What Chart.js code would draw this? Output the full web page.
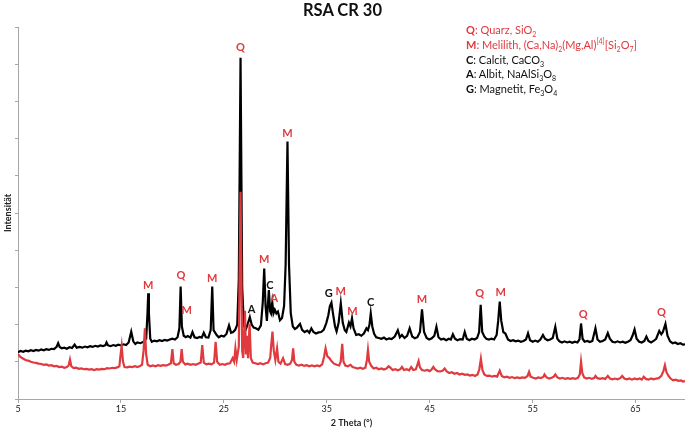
<!DOCTYPE html>
<html>
<head>
<meta charset="utf-8">
<title>RSA CR 30</title>
<script src="https://cdn.jsdelivr.net/npm/chart.js@4.4.1/dist/chart.umd.min.js"></script>
<style>
    html, body { margin: 0; padding: 0; background: #fff; }
    #wrap { position: relative; width: 685px; height: 432px; font-family: Lato, "Open Sans", sans-serif; }
    #title { position: absolute; left: 0; width: 685px; top: 0; text-align: center; font-weight: bold; font-size: 16.5px; line-height: 20px; color: #111; }
    #phases { position: absolute; left: 466px; top: 23px; font-size: 11px; line-height: 14.8px; color: #111; white-space: nowrap; }
    #phases .red { color: #e0393e; }
    #phases sub, #phases sup { font-size: 7px; line-height: 0; }
    canvas { position: absolute; left: 0; top: 0; }
</style>
</head>
<body>
<div id="wrap">
    <canvas id="xrd" width="685" height="432"></canvas>
    <div id="title">RSA CR 30</div>
    <div id="phases">
        <div class="red"><b>Q</b>: Quarz, SiO<sub>2</sub></div>
        <div class="red"><b>M</b>: Melilith, (Ca,Na)<sub>2</sub>(Mg,Al)<sup>[4]</sup>[Si<sub>2</sub>O<sub>7</sub>]</div>
        <div><b>C</b>: Calcit, CaCO<sub>3</sub></div>
        <div><b>A</b>: Albit, NaAlSi<sub>3</sub>O<sub>8</sub></div>
        <div><b>G</b>: Magnetit, Fe<sub>3</sub>O<sub>4</sub></div>
    </div>
</div>
<script>
// values (2 theta in degrees, intensity in axis units 0..10)
const xTicks = [5, 15, 25, 35, 45, 55, 65];

const blackTheta = [5.0, 5.25, 5.5, 5.75, 6.0, 6.25, 6.5, 6.75, 7.0, 7.25, 7.5, 7.75, 8.0, 8.25, 8.5, 8.75, 8.9, 9.05, 9.25, 9.5, 9.75, 10.0, 10.25, 10.5, 10.7, 11.0, 11.25, 11.5, 11.75, 12.0, 12.25, 12.5, 12.75, 13.0, 13.25, 13.5, 13.6, 13.75, 14.0, 14.25, 14.5, 14.75, 15.0, 15.25, 15.5, 15.75, 16.0, 16.2, 16.4, 16.6, 16.9, 17.2, 17.45, 17.58, 17.65, 17.72, 17.85, 18.0, 18.25, 18.5, 18.75, 19.0, 19.25, 19.5, 19.75, 20.0, 20.25, 20.5, 20.68, 20.8, 20.92, 21.1, 21.3, 21.5, 21.75, 21.95, 22.15, 22.4, 22.65, 22.85, 23.05, 23.25, 23.5, 23.72, 23.87, 24.0, 24.3, 24.5, 24.75, 25.0, 25.25, 25.5, 25.7, 25.9, 26.1, 26.3, 26.45, 26.62, 26.78, 26.95, 27.15, 27.35, 27.52, 27.7, 27.9, 28.1, 28.35, 28.6, 28.78, 28.92, 29.05, 29.18, 29.37, 29.5, 29.58, 29.7, 29.82, 29.95, 30.1, 30.25, 30.45, 30.65, 30.85, 31.0, 31.18, 31.33, 31.5, 31.7, 31.9, 32.1, 32.4, 32.6, 32.85, 33.1, 33.3, 33.5, 33.7, 33.95, 34.2, 34.45, 34.7, 34.95, 35.15, 35.3, 35.45, 35.6, 35.8, 35.95, 36.15, 36.36, 36.55, 36.75, 36.9, 37.15, 37.3, 37.45, 37.6, 37.85, 38.1, 38.35, 38.6, 38.85, 39.0, 39.15, 39.27, 39.42, 39.6, 39.8, 40.05, 40.3, 40.55, 40.8, 41.05, 41.3, 41.6, 41.9, 42.1, 42.3, 42.55, 42.8, 43.05, 43.3, 43.55, 43.8, 44.05, 44.25, 44.45, 44.7, 44.95, 45.2, 45.45, 45.65, 45.85, 46.1, 46.35, 46.6, 46.85, 47.05, 47.25, 47.45, 47.7, 47.95, 48.2, 48.4, 48.6, 48.85, 49.1, 49.35, 49.6, 49.8, 49.95, 50.1, 50.3, 50.5, 50.75, 51.0, 51.25, 51.5, 51.65, 51.8, 51.95, 52.15, 52.35, 52.6, 52.85, 53.1, 53.35, 53.6, 53.85, 54.1, 54.35, 54.55, 54.75, 55.0, 55.25, 55.5, 55.75, 56.0, 56.2, 56.45, 56.7, 56.95, 57.2, 57.4, 57.6, 57.85, 58.1, 58.35, 58.6, 58.85, 59.1, 59.35, 59.55, 59.7, 59.85, 60.05, 60.3, 60.55, 60.8, 61.1, 61.3, 61.55, 61.8, 62.05, 62.3, 62.5, 62.75, 63.0, 63.25, 63.5, 63.75, 64.0, 64.25, 64.5, 64.7, 64.9, 65.1, 65.35, 65.6, 65.85, 66.05, 66.25, 66.5, 66.75, 67.0, 67.3, 67.5, 67.65, 67.9, 68.1, 68.35, 68.6, 68.85, 69.1, 69.35, 69.6, 69.8];
const blackInt = [1.26, 1.29, 1.27, 1.30, 1.28, 1.31, 1.29, 1.32, 1.30, 1.33, 1.31, 1.34, 1.32, 1.35, 1.34, 1.40, 1.50, 1.40, 1.36, 1.38, 1.35, 1.39, 1.37, 1.46, 1.38, 1.40, 1.38, 1.41, 1.39, 1.42, 1.40, 1.43, 1.41, 1.44, 1.42, 1.45, 1.52, 1.44, 1.42, 1.45, 1.43, 1.46, 1.44, 1.47, 1.45, 1.52, 1.81, 1.55, 1.48, 1.52, 1.50, 1.54, 1.62, 2.30, 2.84, 2.30, 1.62, 1.54, 1.57, 1.55, 1.58, 1.56, 1.59, 1.57, 1.60, 1.62, 1.60, 1.66, 1.90, 3.02, 1.95, 1.70, 1.66, 1.69, 1.65, 1.80, 1.66, 1.64, 1.67, 1.65, 1.78, 1.66, 1.65, 1.85, 3.02, 1.85, 1.72, 1.66, 1.70, 1.68, 1.75, 1.98, 1.78, 1.80, 1.86, 2.00, 3.20, 9.17, 3.00, 1.95, 1.88, 2.05, 2.20, 2.00, 1.92, 1.90, 1.86, 1.98, 2.60, 3.51, 2.50, 2.10, 2.93, 2.35, 2.30, 2.60, 2.30, 2.40, 2.30, 2.35, 2.12, 2.18, 2.50, 3.60, 6.92, 3.60, 2.30, 1.95, 1.88, 1.92, 2.02, 1.86, 1.80, 1.84, 1.78, 1.90, 1.80, 1.76, 1.79, 1.80, 1.86, 2.04, 2.25, 2.50, 2.59, 2.30, 1.95, 1.82, 2.05, 2.57, 2.05, 1.85, 1.80, 2.05, 1.95, 2.17, 1.90, 1.72, 1.74, 1.70, 1.76, 1.90, 1.85, 2.00, 2.30, 1.95, 1.75, 1.66, 1.64, 1.62, 1.65, 1.60, 1.63, 1.61, 1.68, 1.85, 1.66, 1.72, 1.64, 1.70, 1.90, 1.68, 1.63, 1.66, 1.80, 2.41, 1.80, 1.64, 1.60, 1.63, 1.70, 1.94, 1.66, 1.60, 1.62, 1.58, 1.62, 1.60, 1.74, 1.62, 1.58, 1.61, 1.60, 1.80, 1.62, 1.58, 1.62, 1.60, 1.64, 1.80, 2.53, 1.80, 1.68, 1.62, 1.60, 1.62, 1.60, 1.72, 2.10, 2.62, 2.10, 1.80, 1.76, 1.60, 1.56, 1.58, 1.55, 1.57, 1.54, 1.56, 1.60, 1.77, 1.58, 1.54, 1.57, 1.54, 1.60, 1.72, 1.62, 1.58, 1.60, 1.64, 1.94, 1.62, 1.55, 1.52, 1.55, 1.52, 1.54, 1.51, 1.54, 1.52, 1.60, 2.03, 1.62, 1.54, 1.56, 1.53, 1.56, 1.90, 1.60, 1.54, 1.56, 1.60, 1.77, 1.62, 1.54, 1.52, 1.55, 1.52, 1.54, 1.51, 1.54, 1.58, 1.70, 1.87, 1.62, 1.54, 1.52, 1.56, 1.68, 1.56, 1.52, 1.56, 1.62, 1.83, 1.74, 1.80, 2.02, 1.70, 1.55, 1.50, 1.52, 1.48, 1.50, 1.46, 1.47];

const redTheta = [5.0, 5.2, 5.4, 5.6, 5.8, 6.0, 6.25, 6.5, 6.75, 7.0, 7.25, 7.5, 7.75, 8.0, 8.25, 8.5, 8.75, 9.0, 9.25, 9.5, 9.75, 9.92, 10.05, 10.18, 10.4, 10.65, 10.9, 11.15, 11.4, 11.65, 11.9, 12.15, 12.4, 12.65, 12.9, 13.15, 13.4, 13.65, 13.9, 14.15, 14.4, 14.65, 14.85, 14.95, 15.07, 15.2, 15.35, 15.6, 15.85, 16.1, 16.35, 16.6, 16.85, 17.05, 17.2, 17.33, 17.45, 17.6, 17.85, 18.1, 18.35, 18.6, 18.85, 19.1, 19.35, 19.6, 19.85, 20.0, 20.12, 20.35, 20.6, 20.78, 20.9, 21.02, 21.25, 21.5, 21.75, 22.0, 22.25, 22.5, 22.75, 22.9, 23.05, 23.3, 23.55, 23.8, 24.05, 24.2, 24.35, 24.6, 24.85, 25.1, 25.35, 25.6, 25.85, 26.0, 26.12, 26.25, 26.45, 26.62, 26.78, 26.88, 27.05, 27.15, 27.25, 27.35, 27.5, 27.62, 27.8, 28.05, 28.3, 28.55, 28.8, 29.05, 29.3, 29.5, 29.62, 29.72, 29.85, 30.0, 30.17, 30.3, 30.5, 30.75, 30.95, 31.2, 31.45, 31.62, 31.73, 31.85, 32.05, 32.3, 32.55, 32.8, 33.05, 33.3, 33.55, 33.8, 34.05, 34.3, 34.55, 34.75, 34.88, 35.05, 35.25, 35.45, 35.7, 35.95, 36.2, 36.35, 36.5, 36.62, 36.8, 37.05, 37.3, 37.5, 37.75, 38.0, 38.25, 38.5, 38.75, 38.9, 39.0, 39.12, 39.3, 39.55, 39.8, 40.05, 40.3, 40.55, 40.8, 41.0, 41.15, 41.4, 41.65, 41.9, 42.15, 42.3, 42.5, 42.75, 43.0, 43.2, 43.4, 43.65, 43.8, 43.92, 44.05, 44.25, 44.5, 44.75, 45.0, 45.2, 45.35, 45.5, 45.75, 46.0, 46.25, 46.45, 46.65, 46.9, 47.15, 47.4, 47.65, 47.9, 48.15, 48.4, 48.65, 48.9, 49.15, 49.4, 49.65, 49.82, 49.97, 50.12, 50.3, 50.55, 50.8, 51.05, 51.3, 51.55, 51.8, 52.0, 52.25, 52.5, 52.75, 53.0, 53.25, 53.5, 53.75, 54.0, 54.25, 54.5, 54.65, 54.8, 55.05, 55.3, 55.55, 55.8, 56.05, 56.15, 56.35, 56.6, 56.85, 57.05, 57.2, 57.4, 57.65, 57.9, 58.15, 58.4, 58.65, 58.9, 59.15, 59.4, 59.58, 59.7, 59.82, 60.0, 60.25, 60.5, 60.75, 61.0, 61.1, 61.3, 61.55, 61.8, 62.05, 62.3, 62.5, 62.75, 63.0, 63.25, 63.5, 63.7, 63.9, 64.15, 64.4, 64.65, 64.9, 65.15, 65.4, 65.6, 65.8, 66.0, 66.25, 66.5, 66.75, 67.0, 67.25, 67.5, 67.7, 67.85, 68.0, 68.2, 68.4, 68.65, 68.9, 69.15, 69.4, 69.6, 69.8];
const redInt = [1.20, 1.14, 1.10, 1.07, 1.04, 1.03, 1.00, 0.98, 0.97, 0.95, 0.94, 0.92, 0.93, 0.90, 0.91, 0.88, 0.89, 0.86, 0.87, 0.84, 0.86, 0.90, 1.06, 0.88, 0.83, 0.84, 0.81, 0.82, 0.80, 0.81, 0.79, 0.80, 0.78, 0.80, 0.79, 0.81, 0.80, 0.83, 0.82, 0.84, 0.83, 0.85, 0.88, 1.15, 1.42, 1.00, 0.86, 0.85, 0.87, 0.86, 0.88, 0.86, 0.89, 0.92, 1.30, 1.90, 1.20, 0.92, 0.88, 0.90, 0.88, 0.91, 0.89, 0.91, 0.90, 0.92, 0.96, 1.34, 0.96, 0.92, 0.94, 1.00, 1.34, 1.00, 0.93, 0.95, 0.92, 0.94, 0.92, 0.95, 0.98, 1.45, 0.98, 0.93, 0.95, 0.93, 0.98, 1.54, 1.00, 0.92, 0.94, 0.92, 0.95, 0.96, 1.10, 1.00, 1.36, 1.05, 1.40, 5.57, 1.30, 1.10, 2.37, 1.20, 1.70, 1.10, 2.03, 1.10, 0.98, 0.96, 0.94, 0.96, 0.93, 0.96, 0.98, 1.10, 1.50, 1.81, 1.30, 1.05, 1.36, 1.00, 0.95, 1.10, 0.94, 0.92, 0.95, 1.05, 1.36, 1.00, 0.92, 0.90, 0.92, 0.89, 0.91, 0.88, 0.90, 0.88, 0.90, 0.88, 0.93, 1.15, 1.36, 1.15, 1.10, 1.02, 0.95, 0.92, 0.90, 1.00, 1.48, 1.00, 0.90, 0.88, 0.92, 0.86, 0.84, 0.82, 0.84, 0.81, 0.84, 1.05, 1.32, 1.00, 0.90, 0.82, 0.84, 0.80, 0.82, 0.79, 0.82, 0.88, 0.85, 0.78, 0.80, 0.77, 0.80, 0.86, 0.78, 0.80, 0.77, 0.86, 0.78, 0.80, 0.92, 1.02, 0.85, 0.78, 0.76, 0.78, 0.75, 0.80, 0.86, 0.80, 0.75, 0.74, 0.76, 0.82, 0.74, 0.70, 0.72, 0.68, 0.70, 0.66, 0.68, 0.65, 0.66, 0.63, 0.65, 0.62, 0.66, 0.80, 1.08, 0.78, 0.66, 0.62, 0.63, 0.60, 0.62, 0.60, 0.76, 0.62, 0.58, 0.60, 0.57, 0.59, 0.56, 0.58, 0.56, 0.58, 0.57, 0.62, 0.73, 0.60, 0.57, 0.55, 0.58, 0.56, 0.60, 0.66, 0.58, 0.55, 0.57, 0.60, 0.66, 0.58, 0.55, 0.57, 0.54, 0.56, 0.54, 0.56, 0.54, 0.57, 0.66, 1.00, 0.70, 0.58, 0.55, 0.57, 0.54, 0.57, 0.62, 0.56, 0.54, 0.56, 0.54, 0.62, 0.55, 0.53, 0.55, 0.53, 0.56, 0.62, 0.55, 0.53, 0.55, 0.52, 0.55, 0.53, 0.55, 0.52, 0.60, 0.54, 0.52, 0.55, 0.53, 0.55, 0.56, 0.62, 0.75, 0.91, 0.72, 0.62, 0.55, 0.50, 0.52, 0.49, 0.50, 0.47, 0.48];

// phase markers above the peaks
const markText  = ['Q', 'M', 'M', 'Q', 'M', 'M', 'M', 'C', 'A', 'A', 'G', 'M', 'M', 'C', 'M', 'Q', 'M', 'Q', 'Q'];
const markTheta = [26.62, 31.18, 17.65, 20.83, 21.4, 23.87, 28.92, 29.47, 29.9, 27.7, 35.2, 36.36, 37.5, 39.27, 44.25, 49.85, 51.9, 59.9, 67.5];
const markInt   = [9.46, 7.15, 3.04, 3.31, 2.37, 3.25, 3.76, 3.04, 2.71, 2.42, 2.85, 2.88, 2.35, 2.59, 2.68, 2.84, 2.87, 2.26, 2.32];
const markRed   = [true, true, true, true, true, true, true, false, true, false, false, true, true, false, true, true, true, true, true];

const RED = '#e0393e';
const AXIS = '#a6a6a6';

const phaseMarks = {
    id: 'phaseMarks',
    afterDatasetsDraw(chart) {
        const { ctx, scales: { x, y } } = chart;
        ctx.save();
        ctx.font = 'bold 11px Lato, "Open Sans", sans-serif';
        ctx.textAlign = 'center';
        ctx.textBaseline = 'middle';
        markText.forEach((t, i) => {
            ctx.fillStyle = markRed[i] ? RED : '#111';
            ctx.fillText(t, x.getPixelForValue(markTheta[i]), y.getPixelForValue(markInt[i]));
        });
        ctx.restore();
    }
};

new Chart(document.getElementById('xrd'), {
    type: 'line',
    data: {
        datasets: [
            {
                label: 'RSA CR 30 (rot)',
                data: redTheta.map((t, i) => ({ x: t, y: redInt[i] })),
                borderColor: RED,
                borderWidth: 2.2,
                pointRadius: 0,
                tension: 0
            },
            {
                label: 'RSA CR 30',
                data: blackTheta.map((t, i) => ({ x: t, y: blackInt[i] })),
                borderColor: '#000',
                borderWidth: 2.2,
                pointRadius: 0,
                tension: 0
            }
        ]
    },
    options: {
        responsive: false,
        animation: false,
        layout: { padding: { top: 27, right: 0, bottom: 0, left: 0 } },
        plugins: {
            legend: { display: false },
            tooltip: { enabled: false },
            title: { display: false }
        },
        scales: {
            x: {
                type: 'linear',
                min: 5,
                max: 69.8,
                afterBuildTicks: (s) => { s.ticks = xTicks.map(v => ({ value: v })); },
                afterFit: (s) => { s.height = 33; },
                grid: { drawOnChartArea: false, tickLength: 4, color: AXIS },
                border: { color: AXIS },
                ticks: { padding: 1, color: '#222', font: { family: 'Lato', size: 9 }, maxRotation: 0 },
                title: { display: true, text: '2 Theta (°)', color: '#222', font: { family: 'Lato', size: 9, weight: 'bold' }, padding: { top: 0, bottom: 4 } }
            },
            y: {
                min: 0,
                max: 10,
                afterFit: (s) => { s.width = 18; },
                grid: { drawOnChartArea: false, tickLength: 3, color: AXIS },
                border: { color: AXIS },
                ticks: { display: false, stepSize: 1 },
                title: { display: true, text: 'Intensität', color: '#222', font: { family: 'Lato', size: 9, weight: 'bold' }, padding: { top: 3, bottom: 0 } }
            }
        }
    },
    plugins: [phaseMarks]
});
</script>
</body>
</html>
